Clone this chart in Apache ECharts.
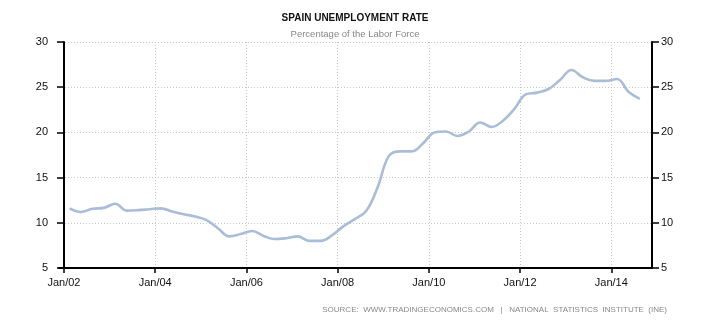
<!DOCTYPE html>
<html>
<head>
<meta charset="utf-8">
<title>Spain Unemployment Rate</title>
<script src="https://cdn.jsdelivr.net/npm/echarts@6/dist/echarts.min.js"></script>
<style>
  html, body { margin: 0; padding: 0; background: #fff; }
  #chart { width: 710px; height: 325px; }
</style>
</head>
<body>
<div id="chart"></div>
<script>
// Quarterly unemployment rate, % of labour force
const quarters = [
  '2002Q1','2002Q2','2002Q3','2002Q4',
  '2003Q1','2003Q2','2003Q3','2003Q4',
  '2004Q1','2004Q2','2004Q3','2004Q4',
  '2005Q1','2005Q2','2005Q3','2005Q4',
  '2006Q1','2006Q2','2006Q3','2006Q4',
  '2007Q1','2007Q2','2007Q3','2007Q4',
  '2008Q1','2008Q2','2008Q3','2008Q4',
  '2009Q1','2009Q2','2009Q3','2009Q4',
  '2010Q1','2010Q2','2010Q3','2010Q4',
  '2011Q1','2011Q2','2011Q3','2011Q4',
  '2012Q1','2012Q2','2012Q3','2012Q4',
  '2013Q1','2013Q2','2013Q3','2013Q4',
  '2014Q1','2014Q2','2014Q3'
];
const rates = [
  11.6, 11.2, 11.55, 11.65,
  12.1, 11.35, 11.4, 11.5,
  11.6, 11.25, 10.95, 10.7,
  10.3, 9.4, 8.5, 8.75,
  9.1, 8.55, 8.2, 8.3,
  8.5, 8.0, 8.0, 8.6,
  9.6, 10.4, 11.3, 13.9,
  17.4, 17.9, 17.9, 18.8,
  20.0, 20.1, 19.6, 20.1,
  21.1, 20.6, 21.3, 22.6,
  24.2, 24.4, 24.8, 25.8,
  26.9, 26.1, 25.7, 25.7,
  25.9, 24.5, 23.7
];

// x axis runs in months counted from Jan 2002
const xTickMonths = [0, 24, 48, 72, 96, 120, 144];
const xTickLabels = ['Jan/02', 'Jan/04', 'Jan/06', 'Jan/08', 'Jan/10', 'Jan/12', 'Jan/14'];
const yTicks = { min: 5, max: 30, interval: 5 };

const titleText = 'SPAIN UNEMPLOYMENT RATE';
const subtitleText = 'Percentage of the Labor Force';
const sourceText = 'SOURCE:  WWW.TRADINGECONOMICS.COM   |   NATIONAL  STATISTICS  INSTITUTE  (INE)';

// each quarter is placed at its midpoint
function quarterToMonth(q) {
  const year = parseInt(q.slice(0, 4), 10);
  const qi = parseInt(q.slice(5), 10) - 1;
  return (year - 2002) * 12 + qi * 3 + 1.5;
}
const seriesData = quarters.map((q, i) => [quarterToMonth(q), rates[i]]);

const FONT = '"Liberation Sans", Arial, sans-serif';
const gridLine = { show: true, lineStyle: { color: '#c8c8c8', type: [1, 2], width: 1 } };
const axisStroke = { color: '#000', width: 2 };
const tickStroke = { color: '#000', width: 1.5 };

const chart = echarts.init(document.getElementById('chart'), null, { renderer: 'canvas' });
chart.setOption({
  animation: false,
  backgroundColor: '#ffffff',
  title: [
    {
      text: titleText,
      left: 'center',
      top: 12,
      padding: 0,
      textStyle: { fontFamily: FONT, fontSize: 10, fontWeight: 'bold', color: '#111', lineHeight: 12 }
    },
    {
      text: subtitleText,
      left: 'center',
      top: 28,
      padding: 0,
      textStyle: { fontFamily: FONT, fontSize: 9.5, fontWeight: 'normal', color: '#888', lineHeight: 12 }
    },
    {
      text: sourceText,
      right: 43,
      top: 305,
      padding: 0,
      textStyle: { fontFamily: FONT, fontSize: 8, fontWeight: 'normal', color: '#888', lineHeight: 10 }
    }
  ],
  grid: { left: 59, right: 58, top: 42, bottom: 57, containLabel: false },
  xAxis: {
    type: 'value',
    min: -1.3,
    max: 154.7,
    axisLine: { show: true, onZero: false, lineStyle: axisStroke },
    axisTick: { show: true, length: 5, customValues: xTickMonths, lineStyle: tickStroke },
    axisLabel: {
      customValues: xTickMonths,
      margin: 9,
      fontFamily: FONT, fontSize: 11, color: '#111',
      formatter: v => xTickLabels[xTickMonths.indexOf(Math.round(v))] || ''
    },
    splitLine: gridLine
  },
  yAxis: [
    {
      type: 'value',
      position: 'left',
      min: yTicks.min, max: yTicks.max, interval: yTicks.interval,
      axisLine: { show: true, lineStyle: axisStroke },
      axisTick: { show: true, length: 7, lineStyle: tickStroke },
      axisLabel: { margin: 11, fontFamily: FONT, fontSize: 11, color: '#111' },
      splitLine: gridLine
    },
    {
      type: 'value',
      position: 'right',
      min: yTicks.min, max: yTicks.max, interval: yTicks.interval,
      axisLine: { show: true, lineStyle: axisStroke },
      axisTick: { show: true, length: 7, lineStyle: tickStroke },
      axisLabel: { margin: 9, fontFamily: FONT, fontSize: 11, color: '#111' },
      splitLine: { show: false }
    }
  ],
  series: [{
    type: 'line',
    name: 'Unemployment rate',
    data: seriesData,
    yAxisIndex: 0,
    smooth: 0.4,
    showSymbol: false,
    symbol: 'none',
    lineStyle: { color: '#aabdd8', width: 2.6 }
  }]
});
</script>
</body>
</html>
